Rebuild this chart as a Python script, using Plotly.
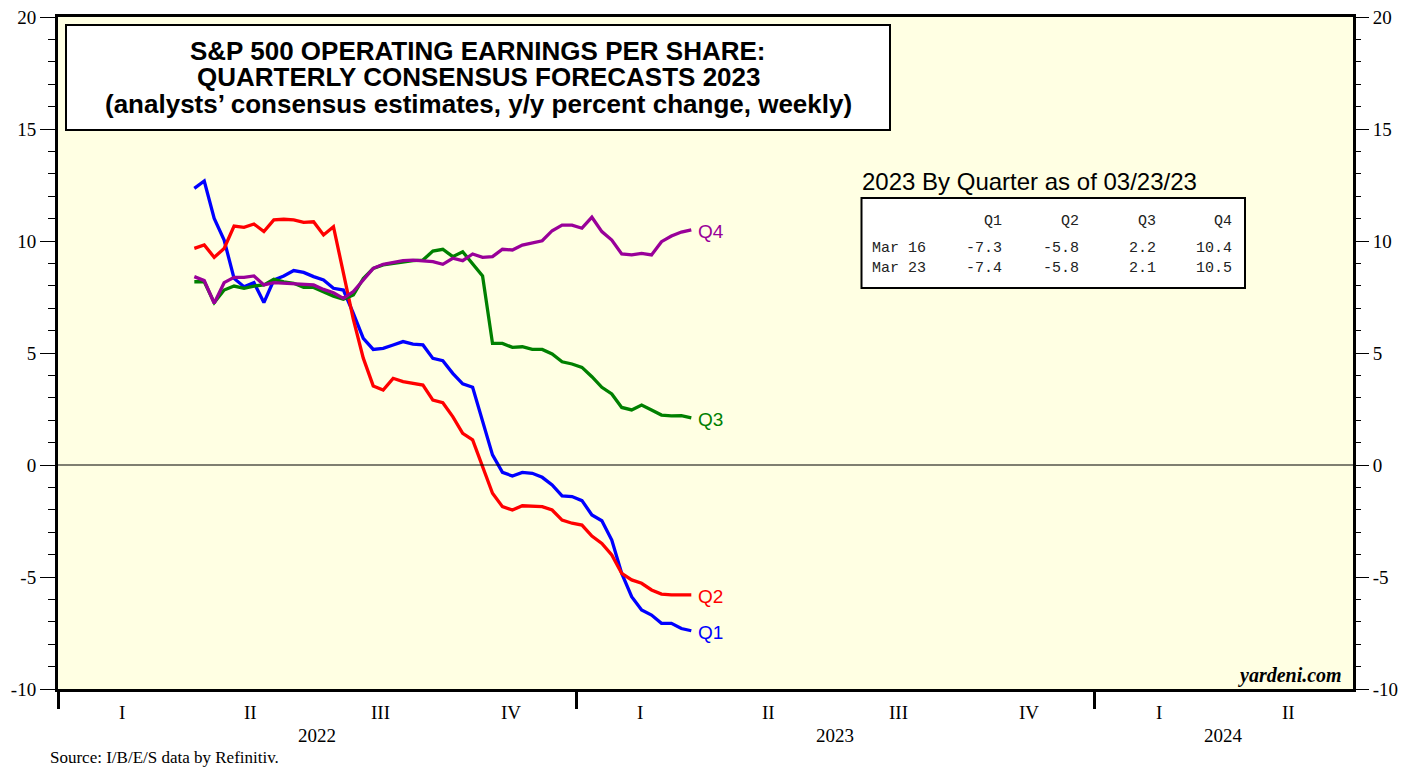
import plotly.graph_objects as go
import pandas as pd

# weekly consensus forecasts, y/y % change, for each 2023 quarter
weeks = pd.date_range("2022-04-07", periods=51, freq="7D")

q1 = [12.35, 12.68, 11.01, 10.04, 8.33, 7.96, 8.14, 7.25, 8.26, 8.44,
      8.68, 8.6, 8.41, 8.26, 7.89, 7.81, 6.77, 5.65, 5.16, 5.21,
      5.36, 5.51, 5.4, 5.36, 4.76, 4.66, 4.09, 3.62, 3.47, 2.01,
      0.45, -0.33, -0.49, -0.33, -0.37, -0.55, -0.89, -1.38, -1.41, -1.59,
      -2.23, -2.49, -3.35, -4.84, -5.88, -6.47, -6.7, -7.07, -7.07, -7.3, -7.4]
q2 = [9.67, 9.82, 9.27, 9.67, 10.67, 10.61, 10.76, 10.42, 10.94, 10.97,
      10.94, 10.83, 10.86, 10.27, 10.64, 8.5, 6.5, 4.77, 3.53, 3.35,
      3.87, 3.72, 3.65, 3.57, 2.9, 2.78, 2.16, 1.41, 1.12, -0.1,
      -1.26, -1.86, -2.01, -1.82, -1.83, -1.86, -2.01, -2.46, -2.6, -2.68,
      -3.17, -3.5, -4.02, -4.84, -5.13, -5.28, -5.58, -5.76, -5.8, -5.8, -5.8]
q3 = [8.18, 8.18, 7.25, 7.81, 7.99, 7.89, 7.99, 8.04, 8.29, 8.18,
      8.11, 7.93, 7.93, 7.74, 7.54, 7.4, 7.59, 8.33, 8.78, 8.93,
      9.0, 9.08, 9.12, 9.15, 9.55, 9.63, 9.3, 9.52, 9.0, 8.44,
      5.43, 5.43, 5.25, 5.28, 5.16, 5.16, 4.96, 4.61, 4.51, 4.36,
      3.94, 3.47, 3.17, 2.57, 2.46, 2.68, 2.46, 2.23, 2.19, 2.2, 2.1]
q4 = [8.41, 8.23, 7.22, 8.14, 8.38, 8.38, 8.44, 8.04, 8.14, 8.11,
      8.11, 8.07, 8.04, 7.84, 7.69, 7.44, 7.74, 8.26, 8.78, 8.96,
      9.03, 9.12, 9.15, 9.12, 9.08, 8.96, 9.23, 9.12, 9.42, 9.27,
      9.3, 9.63, 9.6, 9.82, 9.9, 10.01, 10.46, 10.71, 10.71, 10.57,
      11.06, 10.42, 10.04, 9.42, 9.38, 9.45, 9.38, 9.97, 10.22, 10.4, 10.5]

series_names = ["Q1", "Q2", "Q3", "Q4"]
series_colors = ["#0000ff", "#ff0000", "#008000", "#990099"]
row_labels = ["Mar 16", "Mar 23"]

y_ticks = [-10, -5, 0, 5, 10, 15, 20]
quarter_labels = ["I", "II", "III", "IV"]
years = [2022, 2023, 2024]
title_lines = ["S&P 500 OPERATING EARNINGS PER SHARE:",
               "QUARTERLY CONSENSUS FORECASTS 2023",
               "(analysts’ consensus estimates, y/y percent change, weekly)"]

W, H = 1419, 767
OFF = 8  # page body margin
L, R, T, B = 58, 1353, 17, 689  # plot area in screen pixels


def px(x):
    return (x - L) / (R - L)


def py(y):
    return (B - y) / (B - T)


fig = go.Figure()
all_series = [q1, q2, q3, q4]
for name, vals, color in zip(series_names, all_series, series_colors):
    fig.add_trace(go.Scatter(x=weeks, y=vals, mode="lines", name=name,
                             line=dict(color=color, width=3.3), showlegend=False))
    fig.add_annotation(x=weeks[-1], y=vals[-1], text=name, showarrow=False,
                       xanchor="left", yanchor="middle", xshift=5, yshift=-2,
                       font=dict(family="Liberation Sans, Arial", size=19, color=color))

# invisible trace to drive the right-hand axis
fig.add_trace(go.Scatter(x=[weeks[0]], y=[0], yaxis="y2", mode="lines",
                         line=dict(width=0), showlegend=False, hoverinfo="skip"))

serif = "Liberation Serif, Times New Roman, serif"
axis_y = dict(range=[-10, 20], tickvals=y_ticks, ticktext=[str(v) for v in y_ticks],
              ticks="outside", ticklen=15, tickwidth=1.3, tickcolor="black",
              minor=dict(dtick=1, ticks="outside", ticklen=7, tickwidth=1.3, tickcolor="black"),
              tickfont=dict(family=serif, size=19, color="black"),
              ticklabeloverflow="allow",
              showgrid=False, zeroline=False, fixedrange=True, automargin=False)

fig.update_layout(
    template="none",
    width=W, height=H,
    margin=dict(l=L - OFF, r=W - (R - OFF), t=T - OFF, b=H - (B - OFF), pad=0),
    paper_bgcolor="white",
    plot_bgcolor="#ffffe3",
    xaxis=dict(type="date", range=["2022-01-01", "2024-07-01"],
               tickvals=[f"{y}-01-01" for y in years],
               ticks="outside", ticklen=17, tickwidth=3, tickcolor="black",
               showticklabels=False, showgrid=False, zeroline=False, automargin=False,
               showline=True, linewidth=3, linecolor="black", mirror=True),
    yaxis=dict(**axis_y, side="left", showline=True, linewidth=3,
               linecolor="black", mirror=True),
    yaxis2=dict(**axis_y, side="right", overlaying="y", showline=False),
)

# zero line
fig.add_hline(y=0, line=dict(color="black", width=1.2))

# quarter and year labels under the axis
for yr in years:
    n_q = 2 if yr == 2024 else 4
    starts = pd.date_range(f"{yr}-01-01", periods=n_q + 1, freq="QS")
    for i in range(n_q):
        mid = starts[i] + (starts[i + 1] - starts[i]) / 2
        fig.add_annotation(x=mid, y=py(712), yref="paper", text=quarter_labels[i],
                           showarrow=False, yanchor="middle",
                           font=dict(family=serif, size=19, color="black"))
    ymid = starts[0] + (starts[-1] - starts[0]) / 2
    fig.add_annotation(x=ymid, y=py(735), yref="paper", text=str(yr),
                       showarrow=False, yanchor="middle",
                       font=dict(family=serif, size=19, color="black"))

# title box
fig.add_shape(type="rect", xref="paper", yref="paper",
              x0=px(66), x1=px(890), y0=py(130), y1=py(25),
              fillcolor="white", line=dict(color="black", width=2))
for k, line in enumerate(title_lines):
    fig.add_annotation(xref="paper", yref="paper", x=px(478), y=py(51 + 26.5 * k),
                       text=line, showarrow=False, xanchor="center", yanchor="middle",
                       font=dict(family="Liberation Sans, Arial", size=26, color="black",
                                 weight="bold"))

# table of latest values
fig.add_annotation(xref="paper", yref="paper", x=px(860), y=py(181),
                   text="2023 By Quarter as of 03/23/23", showarrow=False,
                   xanchor="left", yanchor="middle",
                   font=dict(family="Liberation Sans, Arial", size=24, color="black"))
fig.add_shape(type="rect", xref="paper", yref="paper",
              x0=px(861.5), x1=px(1245), y0=py(288), y1=py(198),
              fillcolor="white", line=dict(color="black", width=2))
mono = dict(family="Liberation Mono, Courier New, monospace", size=15, color="#222222")
col_right = [1004, 1081, 1158, 1234]
row_y = [248, 268]
for j, name in enumerate(series_names):
    fig.add_annotation(xref="paper", yref="paper", x=px(col_right[j]), y=py(221),
                       text=name, showarrow=False, xanchor="right", yanchor="middle", font=mono)
    for r, label in enumerate(row_labels):
        val = all_series[j][-2 + r]
        fig.add_annotation(xref="paper", yref="paper", x=px(col_right[j]), y=py(row_y[r]),
                           text=f"{val:.1f}", showarrow=False, xanchor="right",
                           yanchor="middle", font=mono)
for r, label in enumerate(row_labels):
    fig.add_annotation(xref="paper", yref="paper", x=px(870), y=py(row_y[r]),
                       text=label, showarrow=False, xanchor="left", yanchor="middle", font=mono)

# watermark, figure label and source
fig.add_annotation(xref="paper", yref="paper", x=px(1344), y=py(675),
                   text="<b><i>yardeni.com</i></b>", showarrow=False,
                   xanchor="right", yanchor="middle",
                   font=dict(family=serif, size=20, color="black"))
fig.add_annotation(xref="paper", yref="paper", x=px(68), y=py(-4),
                   text="<b><i>Figure 16.</i></b>", showarrow=False,
                   xanchor="left", yanchor="middle",
                   font=dict(family="Liberation Sans, Arial", size=20, color="black"))
fig.add_annotation(xref="paper", yref="paper", x=px(48), y=py(757),
                   text="Source: I/B/E/S data by Refinitiv.", showarrow=False,
                   xanchor="left", yanchor="middle",
                   font=dict(family=serif, size=17, color="black"))

fig.write_html("out.html")
